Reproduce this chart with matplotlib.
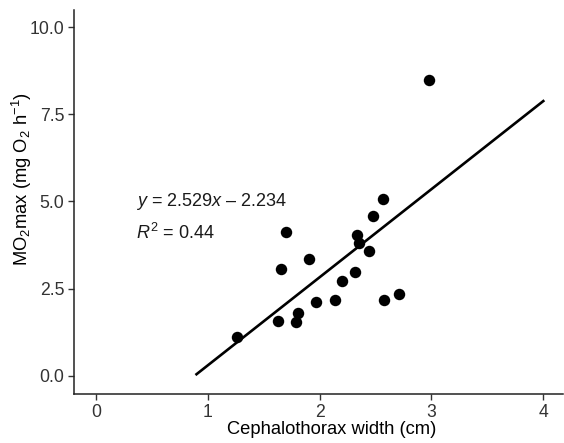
import numpy as np
import matplotlib
matplotlib.use("Agg")
import matplotlib.pyplot as plt

plt.rcParams["font.family"] = ["Liberation Sans", "DejaVu Sans"]
plt.rcParams["mathtext.fontset"] = "custom"
plt.rcParams["mathtext.rm"] = "Liberation Sans"
plt.rcParams["mathtext.it"] = "Liberation Sans:italic"
plt.rcParams["mathtext.default"] = "regular"

# cephalothorax width (cm) and MO2max (mg O2 h-1)
width = [2.976, 2.563, 2.482, 2.333, 1.702, 2.357, 2.438, 1.908, 1.658, 2.321,
         2.199, 2.711, 2.577, 2.134, 1.970, 1.806, 1.631, 1.792, 1.262]
mo2max = [8.50, 5.08, 4.59, 4.04, 4.12, 3.80, 3.58, 3.35, 3.07, 2.98,
          2.72, 2.35, 2.16, 2.16, 2.12, 1.80, 1.56, 1.53, 1.10]

slope = 2.529
intercept = -2.234
fit_range = [0.9, 4.0]
xticks = [0, 1, 2, 3, 4]
yticks = [0.0, 2.5, 5.0, 7.5, 10.0]

fig = plt.figure(figsize=(5.64, 4.43), dpi=100)
ax = fig.add_axes([0.131, 0.111, 0.868, 0.866])

xs = np.array(fit_range)
ax.plot(xs, slope * xs + intercept, color="black", lw=1.9, zorder=2)
ax.scatter(width, mo2max, s=68, color="black", zorder=3, linewidths=0)

ax.text(0.36, 5.0, r"$\mathit{y}$ = 2.529$\mathit{x}$ – 2.234", fontsize=13,
        va="center", color="#1a1a1a")
ax.text(0.36, 4.1, r"$\mathit{R}^2$ = 0.44", fontsize=13,
        va="center", color="#1a1a1a")

ax.set_xlim(-0.196, 4.18)
ax.set_ylim(-0.52, 10.49)
ax.set_xticks(xticks)
ax.set_yticks(yticks)
ax.set_yticklabels([f"{t:.1f}" for t in yticks])

for s in ["top", "right"]:
    ax.spines[s].set_visible(False)
for s in ["left", "bottom"]:
    ax.spines[s].set_linewidth(1.1)
    ax.spines[s].set_color("#222222")

ax.tick_params(axis="both", labelsize=12.7, labelcolor="#333333", length=4,
               width=1.0, color="#333333", pad=3)

ax.set_xlabel("Cephalothorax width (cm)", fontsize=13.2)
ax.set_ylabel(r"MO$_2$max (mg O$_2$ h$^{-1}$)", fontsize=13.2)
ax.xaxis.set_label_coords(0.527, -0.072)
ax.yaxis.set_label_coords(-0.082, 0.56)

fig.savefig("out.png", dpi=100)
